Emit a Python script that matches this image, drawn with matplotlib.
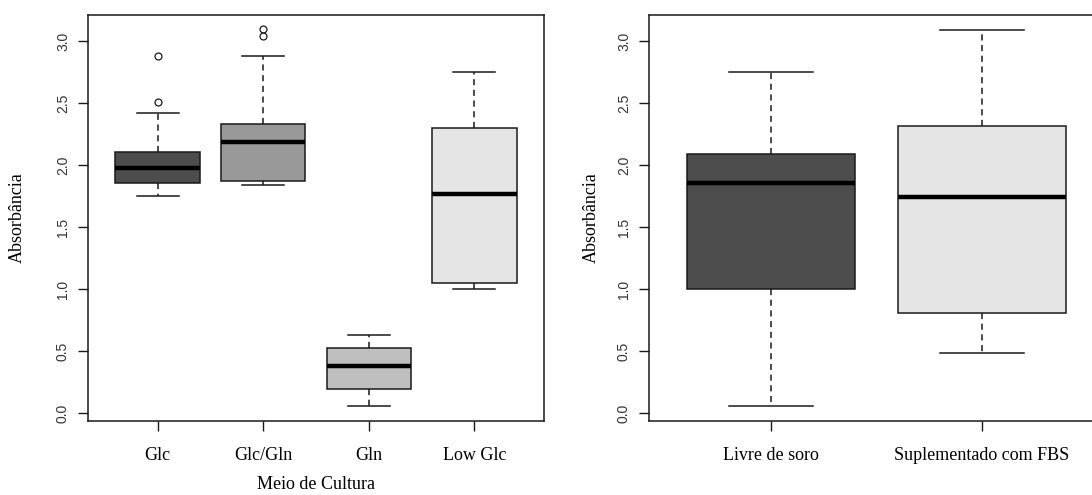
import numpy as np
import matplotlib
matplotlib.use("Agg")
import matplotlib.pyplot as plt

# =============================================================================
# Data

meio_labels = ["Glc", "Glc/Gln", "Gln", "Low Glc"]
meio_whislo = [1.75, 1.84, 0.06, 1.00]
meio_q1 = [1.86, 1.87, 0.20, 1.05]
meio_med = [1.98, 2.19, 0.38, 1.77]
meio_q3 = [2.11, 2.33, 0.53, 2.30]
meio_whishi = [2.42, 2.88, 0.63, 2.75]
meio_fliers = [[2.51, 2.88], [3.04, 3.10], [], []]
meio_colors = ["#4d4d4d", "#999999", "#bfbfbf", "#e5e5e5"]

soro_labels = ["Livre de soro", "Suplementado com FBS"]
soro_whislo = [0.06, 0.49]
soro_q1 = [1.00, 0.81]
soro_med = [1.86, 1.745]
soro_q3 = [2.09, 2.32]
soro_whishi = [2.75, 3.09]
soro_colors = ["#4d4d4d", "#e5e5e5"]

W, H = 1092, 495
SERIF = ["Liberation Serif", "DejaVu Serif"]
SANS = ["Liberation Sans", "DejaVu Sans"]


def make_stats(lo, q1, med, q3, hi, fliers=None):
    stats = []
    for i in range(len(med)):
        stats.append({
            "whislo": lo[i], "q1": q1[i], "med": med[i], "q3": q3[i],
            "whishi": hi[i],
            "fliers": np.array(fliers[i] if fliers else []),
        })
    return stats


def draw_box(ax, stats, colors, labels):
    n = len(stats)
    bp = ax.bxp(
        stats, positions=np.arange(1, n + 1), widths=0.8, capwidths=0.4,
        patch_artist=True, showfliers=True,
        boxprops=dict(edgecolor="#1a1a1a", linewidth=1.1),
        medianprops=dict(color="black", linewidth=3.2, solid_capstyle="butt"),
        whiskerprops=dict(color="#1a1a1a", linewidth=1.1, linestyle=(0, (4, 3))),
        capprops=dict(color="#1a1a1a", linewidth=1.1),
        flierprops=dict(marker="o", markersize=5, markerfacecolor="none",
                        markeredgecolor="#1a1a1a", markeredgewidth=0.9),
    )
    for patch, c in zip(bp["boxes"], colors):
        patch.set_facecolor(c)

    ax.set_xlim(0.5 - 0.04 * n, n + 0.5 + 0.04 * n)
    ax.set_ylim(-0.0612, 3.2112)
    ax.set_xticks(np.arange(1, n + 1))
    ax.set_xticklabels(labels, family=SERIF, fontsize=13)
    ax.set_yticks(np.arange(0, 3.01, 0.5))
    ax.set_yticklabels([f"{v:.1f}" for v in np.arange(0, 3.01, 0.5)],
                       family=SANS, fontsize=10, rotation=90, va="center",
                       color="#333333")
    ax.tick_params(axis="x", length=7, width=1, pad=12, color="#1a1a1a")
    ax.tick_params(axis="y", length=7, width=1, pad=6, color="#1a1a1a")
    for s in ax.spines.values():
        s.set_linewidth(1.1)
        s.set_color("#1a1a1a")
    ax.set_ylabel("Absorbância", family=SERIF, fontsize=13)


# =============================================================================
# Plot

fig = plt.figure(figsize=(W / 100, H / 100), dpi=100)

ax1 = fig.add_axes([88 / W, (H - 421) / H, 456 / W, 406 / H])
draw_box(ax1, make_stats(meio_whislo, meio_q1, meio_med, meio_q3,
                         meio_whishi, meio_fliers), meio_colors, meio_labels)
ax1.set_xlabel("Meio de Cultura", family=SERIF, fontsize=13)
ax1.xaxis.set_label_coords(0.5, -(476 - 421) / 406)
ax1.yaxis.set_label_coords(-(88 - 26) / 456, 0.5)

ax2 = fig.add_axes([649 / W, (H - 421) / H, 455 / W, 406 / H])
draw_box(ax2, make_stats(soro_whislo, soro_q1, soro_med, soro_q3,
                         soro_whishi), soro_colors, soro_labels)
ax2.yaxis.set_label_coords(-(649 - 600) / 455, 0.5)

fig.savefig("out.png", dpi=100)
